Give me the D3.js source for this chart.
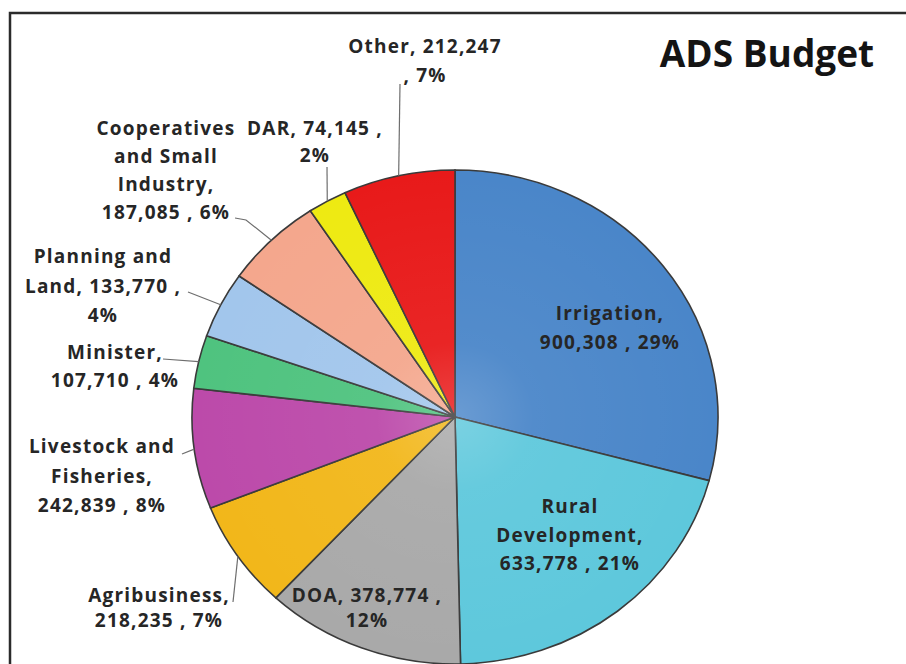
<!DOCTYPE html>
<html lang="en">
<head>
  <meta charset="UTF-8">
  <title>ADS Budget</title>
  <script src="https://d3js.org/d3.v7.min.js"></script>
  <style>
    body { margin: 0; background: #fff; }
    svg { display: block; }
    .slice { stroke: #3a3a3a; stroke-width: 1.6px; }
    .lbl {
      font-family: "Open Sans", sans-serif;
      font-weight: 700;
      font-size: 19px;
      letter-spacing: 1.2px;
      fill: #262626;
    }
    .leader { fill: none; stroke: #6e6e6e; stroke-width: 1.2px; }
    .title {
      font-family: "Open Sans", sans-serif;
      font-weight: 700;
      font-size: 37px;
      fill: #141414;
    }
  </style>
</head>
<body>
  <svg width="906" height="664"></svg>

  <script>
    // data (clockwise from 12 o'clock)
    const categories = ["Irrigation", "Rural Development", "DOA", "Agribusiness",
      "Livestock and Fisheries", "Minister", "Planning and Land",
      "Cooperatives and Small Industry", "DAR", "Other"];
    const values = [900308, 633778, 378774, 218235, 242839, 107710, 133770, 187085, 74145, 212247];
    const percents = ["29%", "21%", "12%", "7%", "8%", "4%", "4%", "6%", "2%", "7%"];
    const colors = ["#4a86c9", "#5ec8dc", "#a9a9a9", "#f2b71a", "#bc4aaa",
      "#4fc37f", "#a2c6ec", "#f4a78d", "#eeea12", "#e81a1a"];

    const title = "ADS Budget";

    // label layout: centre x, first baseline, line step, words per line, leader points
    const labelLayout = [
      { x: 610, y: 320, step: 29, wrap: [1, 3] },
      { x: 570, y: 513, step: 28.5, wrap: [1, 1, 3] },
      { x: 367, y: 602, step: 25, wrap: [3, 1] },
      { x: 159, y: 602, step: 25, wrap: [1, 3], leader: [[233, 602]] },
      { x: 102, y: 453, step: 29.5, wrap: [2, 1, 3], leader: [[182, 454]] },
      { x: 115, y: 359, step: 28, wrap: [1, 3], leader: [[163, 359]] },
      { x: 103, y: 263, step: 29.5, wrap: [2, 3, 1], leader: [[188, 292]] },
      { x: 166, y: 135, step: 28, wrap: [1, 2, 1, 3], leader: [[235, 218], [246, 220]] },
      { x: 315, y: 135, step: 27, wrap: [3, 1], leader: [[327, 167]] },
      { x: 425, y: 53, step: 29, wrap: [2, 2], leader: [[400, 84]] }
    ];

    const width = 906, height = 664;
    const cx = 455, cy = 417, r = 247, sx = 263 / 247;

    const svg = d3.select("svg");
    const fmt = d3.format(",");

    const data = categories.map((c, i) => ({ name: c, value: values[i], pct: percents[i], color: colors[i] }));

    const pie = d3.pie().sort(null).value(d => d.value);
    const arcs = pie(data);
    const arc = d3.arc().innerRadius(0).outerRadius(r);
    const edge = d3.arc().innerRadius(r).outerRadius(r);

    // faint sheen toward the centre, like the original's shading
    const defs = svg.append("defs");
    const grad = defs.append("radialGradient").attr("id", "sheen")
      .attr("gradientUnits", "userSpaceOnUse")
      .attr("cx", 0).attr("cy", 0).attr("r", r);
    grad.append("stop").attr("offset", "0%").attr("stop-color", "#fff").attr("stop-opacity", 0.18);
    grad.append("stop").attr("offset", "30%").attr("stop-color", "#fff").attr("stop-opacity", 0.05);
    grad.append("stop").attr("offset", "100%").attr("stop-color", "#fff").attr("stop-opacity", 0);

    // frame of the original slide picture
    svg.append("path")
      .attr("d", `M10,${height} V13 H${width}`)
      .attr("fill", "none")
      .attr("stroke", "#2b2b2b")
      .attr("stroke-width", 2.5);

    // pie, slightly wider than tall as in the picture
    const g = svg.append("g")
      .attr("transform", `translate(${cx},${cy}) scale(${sx},1)`);

    g.selectAll("path.slice")
      .data(arcs)
      .join("path")
      .attr("class", "slice")
      .attr("vector-effect", "non-scaling-stroke")
      .attr("d", arc)
      .attr("fill", d => d.data.color);

    g.append("circle")
      .attr("r", r)
      .attr("fill", "url(#sheen)")
      .attr("pointer-events", "none");

    // leader lines from label to slice edge
    const line = d3.line();
    arcs.forEach((d, i) => {
      const lay = labelLayout[i];
      if (!lay.leader) return;
      const [ex, ey] = edge.centroid(d);
      const pts = lay.leader.concat([[cx + ex * sx, cy + ey]]);
      svg.append("path").attr("class", "leader").attr("d", line(pts));
    });

    // labels: "Name, value , pct" wrapped by word counts
    arcs.forEach((d, i) => {
      const lay = labelLayout[i];
      const words = d.data.name.split(" ");
      words[words.length - 1] += ",";
      words.push(fmt(d.data.value), ",", d.data.pct);
      const lines = [];
      let k = 0;
      lay.wrap.forEach(n => { lines.push(words.slice(k, k + n).join(" ")); k += n; });

      const t = svg.append("text")
        .attr("class", "lbl")
        .attr("text-anchor", "middle");
      lines.forEach((s, j) => {
        t.append("tspan")
          .attr("x", lay.x)
          .attr("y", lay.y + j * lay.step)
          .text(s);
      });
    });

    svg.append("text")
      .attr("class", "title")
      .attr("x", 767)
      .attr("y", 67)
      .attr("text-anchor", "middle")
      .text(title);
  </script>
</body>
</html>
